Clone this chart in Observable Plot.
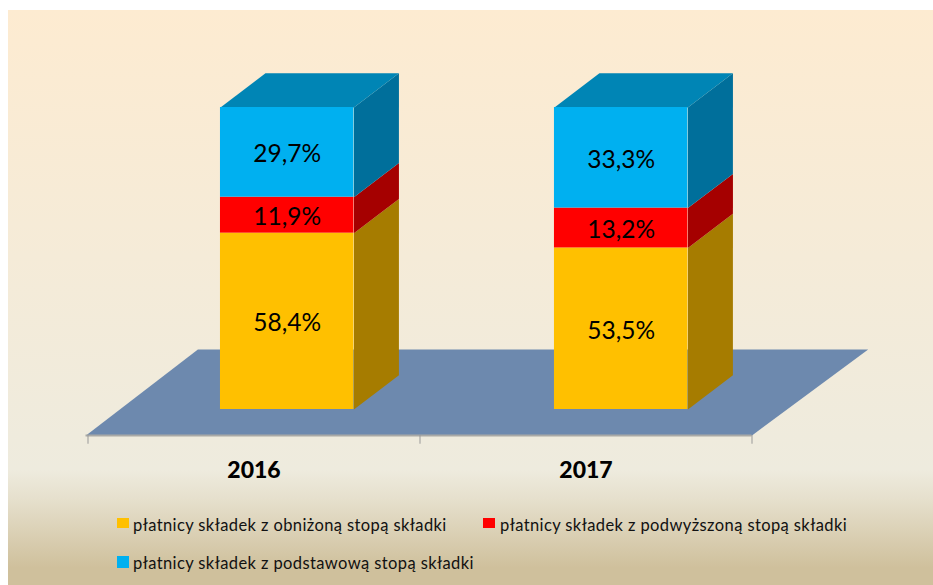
<!DOCTYPE html>
<html lang="pl"><head><meta charset="utf-8">
<script src="https://cdn.jsdelivr.net/npm/d3@7"></script>
<script src="https://cdn.jsdelivr.net/npm/@observablehq/plot@0.6"></script>
<style>
html,body{margin:0;padding:0;background:#fff;width:933px;height:585px;overflow:hidden}
#bg{position:absolute;left:8px;top:10px;width:925px;height:575px;
background:linear-gradient(180deg,#fdebd1 0,#eeebde 80%,#e6e0cd 85%,#cfc09c 97%,#cfc09c 100%)}
#chart{position:absolute;left:0;top:0}
#chart svg{background:transparent;display:block}
.lg{position:absolute;font:16.5px Lato,Carlito,sans-serif;color:#111;white-space:nowrap;letter-spacing:.4px}
.sw{position:absolute;width:12px}
</style></head><body>
<div id="bg"></div><div id="chart"></div><div id="legend"></div>
<script>
const years = ["2016","2017"];
const lowered = [58.4,53.5];
const raised = [11.9,13.2];
const standard = [29.7,33.3];
const labels = {lowered:"płatnicy składek z obniżoną stopą składki",raised:"płatnicy składek z podwyższoną stopą składki",standard:"płatnicy składek z podstawową stopą składki"};
const fmt = v => v.toFixed(1).replace(".",",")+"%";
const colors = {lowered:["#ffc000","#a67c00"],raised:["#ff0000","#a50000"],standard:["#00b0f0","#006f9b"]};
const topColor = "#0085b5";
const barLeft = [0.399,1.405], barWidth = 0.402, depthX = 0.1355, depthY = 11.3;

const rows = [];
years.forEach((year,i)=>{
  let base = 0;
  [["lowered",lowered[i]],["raised",raised[i]],["standard",standard[i]]].forEach(([key,v])=>{
    rows.push({year,i,key,v,y1:base,y2:base+v,x1:barLeft[i],x2:barLeft[i]+barWidth});
    base += v;
  });
});
const face = (d,suffix)=>[
  {x:d.x2,y:d.y1},{x:d.x2+depthX,y:d.y1+depthY},{x:d.x2+depthX,y:d.y2+depthY},{x:d.x2,y:d.y2}
].map(p=>({...p,id:d.year+d.key+suffix,c:colors[d.key][1]}));
const sides = rows.flatMap(d=>face(d,"side"));
const tops = rows.filter(d=>d.key==="standard").flatMap(d=>[
  {x:d.x1,y:d.y2},{x:d.x2,y:d.y2},{x:d.x2+depthX,y:d.y2+depthY},{x:d.x1+depthX,y:d.y2+depthY}
].map(p=>({...p,id:d.year+"top"})));
const floor = [{x:-0.006,y:-8.6},{x:2,y:-8.6},{x:2.35,y:19.9},{x:0.331,y:19.9}];
const edges = [0,1,2];

const plot = Plot.plot({
  width:933,height:585,margin:0,
  style:{background:"transparent",overflow:"visible"},
  x:{type:"linear",domain:[0,2],range:[87.5,751.5],axis:null},
  y:{type:"linear",domain:[0,100],range:[409,107],axis:null},
  marks:[
    Plot.line(floor,{x:"x",y:"y",fill:"#6d89ae",stroke:"none",curve:"linear"}),
    Plot.ruleY([-8.6],{x1:-0.006,x2:2,stroke:"#a9a9a6",strokeWidth:2}),
    Plot.ruleX(edges,{x:d=>d,y1:-8.6,y2:-11.5,stroke:"#999",strokeWidth:1}),
    Plot.line(sides,{x:"x",y:"y",z:"id",fill:"c",stroke:"none",curve:"linear"}),
    Plot.line(tops,{x:"x",y:"y",z:"id",fill:topColor,stroke:"none",curve:"linear"}),
    Plot.rect(rows,{x1:"x1",x2:"x2",y1:"y1",y2:"y2",fill:d=>colors[d.key][0]}),
    Plot.text(rows,{x:d=>(d.x1+d.x2)/2,y:d=>(d.y1+d.y2)/2,text:d=>fmt(d.v),fontSize:24.5,fill:"#000",fontFamily:"Lato, Carlito, sans-serif",dy:2}),
    Plot.text(years,{x:(d,i)=>i+0.5,y:-20.3,text:d=>d,fontSize:23,fontWeight:900,fill:"#000",fontFamily:"Lato, Carlito, sans-serif"})
  ]
});
document.getElementById("chart").append(plot);

const lg = document.getElementById("legend");
[["lowered",117,518,10,133,525],["raised",483,518,10,500,525],["standard",117,556,12,133,563]].forEach(([k,sx,sy,sh,tx,ty])=>{
  const s=document.createElement("div");s.className="sw";s.style.cssText=`left:${sx}px;top:${sy}px;height:${sh}px;background:${colors[k][0]}`;lg.append(s);
  const t=document.createElement("div");t.className="lg";t.textContent=labels[k];t.style.left=tx+"px";t.style.top=(ty-10)+"px";lg.append(t);
});
</script></body></html>
